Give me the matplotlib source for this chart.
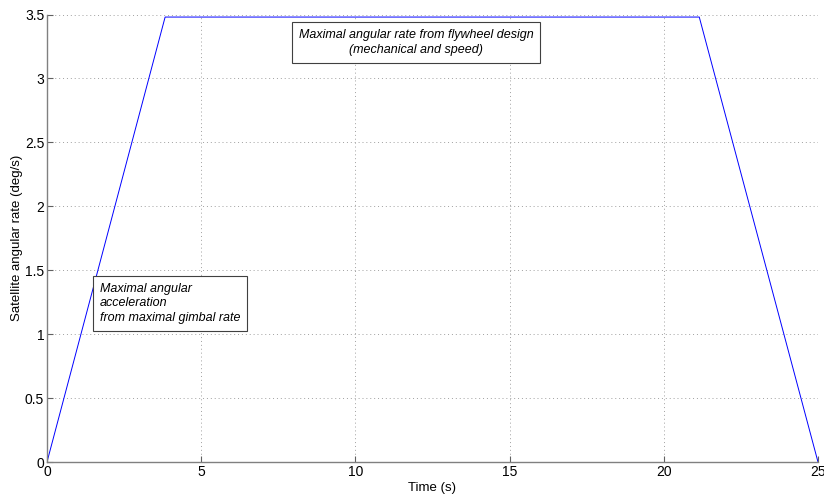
import matplotlib

matplotlib.use("Agg")
import matplotlib.pyplot as plt

plt.rcParams["font.family"] = ["Liberation Sans", "DejaVu Sans"]

# trapezoid profile of the satellite angular rate
time_s = [0.0, 3.83, 21.15, 25.0]
rate_deg_s = [0.0, 3.48, 3.48, 0.0]

x_ticks = [0, 5, 10, 15, 20, 25]
y_ticks = [0, 0.5, 1, 1.5, 2, 2.5, 3, 3.5]
y_tick_labels = ["0", "0.5", "1", "1.5", "2", "2.5", "3", "3.5"]

fig = plt.figure(figsize=(8.24, 4.94), dpi=100)
ax = fig.add_axes([47 / 824, 1 - 462 / 494, 771 / 824, 447.5 / 494])

ax.plot(time_s, rate_deg_s, color="#0000ff", linewidth=0.7)

ax.set_xlim(0, 25)
ax.set_ylim(0, 3.5)
ax.set_xticks(x_ticks)
ax.set_yticks(y_ticks)
ax.set_yticklabels(y_tick_labels)
ax.grid(True, linestyle=(0, (1, 3)), color="#a0a0a0", linewidth=0.7)
ax.tick_params(direction="in", length=4, width=0.8, color="#606060",
               labelsize=10, pad=2)
for side in ("top", "right"):
    ax.spines[side].set_visible(False)
for side in ("left", "bottom"):
    ax.spines[side].set_color("#808080")
    ax.spines[side].set_linewidth(1.0)

ax.set_xlabel("Time (s)", fontsize=9.5, labelpad=2)
ax.set_ylabel("Satellite angular rate (deg/s)", fontsize=9.5, labelpad=1)

box = dict(boxstyle="square,pad=0.55", facecolor="white", edgecolor="#404040", linewidth=0.8)
ax.text(11.97, 3.28, "Maximal angular rate from flywheel design\n(mechanical and speed)",
        ha="center", va="center", fontsize=9, style="italic", bbox=box, linespacing=1.4)
ax.text(1.72, 1.24, "Maximal angular\nacceleration\nfrom maximal gimbal rate",
        ha="left", va="center", fontsize=9, style="italic", bbox=box, linespacing=1.3)

fig.savefig("out.png", dpi=100)
